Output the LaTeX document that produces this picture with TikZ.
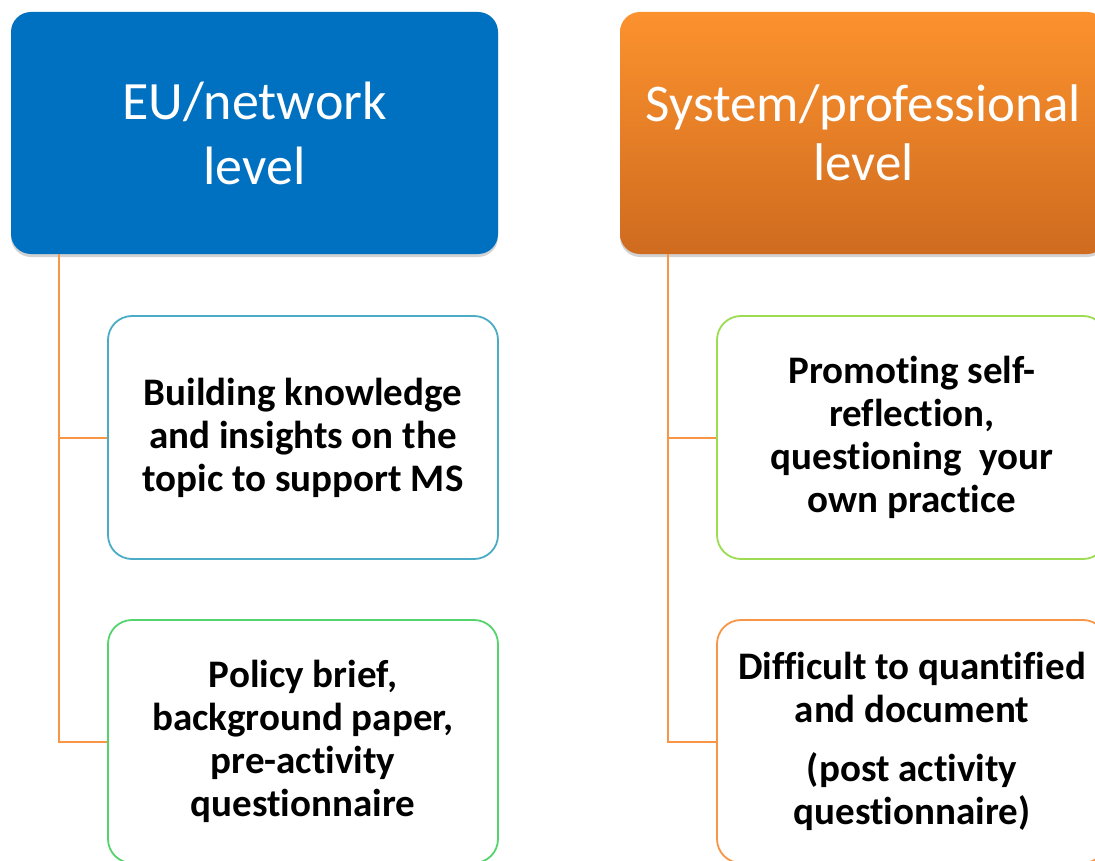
\documentclass[tikz,border=0pt]{standalone}
\usepackage{fontspec}
\setmainfont{Carlito}[Ligatures={NoCommon}]
\usetikzlibrary{shadows}
\definecolor{hdrblue}{HTML}{0070C0}
\definecolor{hdrtop}{HTML}{FC922E}
\definecolor{hdrbot}{HTML}{CF6B1F}
\definecolor{linkorange}{HTML}{F79646}
\definecolor{bordA}{HTML}{4BACC6}
\definecolor{bordB}{HTML}{55D36C}
\definecolor{bordC}{HTML}{9CDC52}
\definecolor{bordD}{HTML}{F79646}
\begin{document}
\begin{tikzpicture}[x=1pt,y=-1pt,
  header/.style={rounded corners=20pt, minimum width=487pt, minimum height=242pt,
    text=white, align=center, inner sep=0pt,
    drop shadow={shadow xshift=0pt,shadow yshift=-3pt,opacity=.25,fill=black!70}},
  child/.style={draw, line width=1.8pt, fill=white, rounded corners=24pt,
    minimum width=390pt, minimum height=243pt, align=center, inner sep=0pt,
    font=\bfseries\fontsize{39}{43}\selectfont},
  link/.style={draw=linkorange, line width=2pt}]
\useasboundingbox (0,0) rectangle (1095,861);
\clip (0,0) rectangle (1095,861);
\fill[white] (0,0) rectangle (1095,861);

\node[header, fill=hdrblue, font=\fontsize{54}{65}\selectfont] (eu) at (254.5,133) {EU/network\\level};
\node[header, top color=hdrtop, bottom color=hdrbot, font=\fontsize{53}{59}\selectfont] (sys) at (863.5,133) {System/professional\\level};

\node[child, draw=bordA] (b1) at (303,437.5) {\raisebox{-6pt}{\parbox{380pt}{\centering Building knowledge\\and insights on the\\topic to support MS}}};
\node[child, draw=bordB] (b2) at (303,741.5) {\raisebox{-3pt}{\parbox{380pt}{\centering Policy brief,\\background paper,\\pre-activity\\questionnaire}}};
\node[child, draw=bordC] (b3) at (912,437.5) {\raisebox{-3pt}{\parbox{380pt}{\centering Promoting self-\\reflection,\\questioning\ \ your\\own practice}}};
\node[child, draw=bordD] (b4) at (912,741.5) {\raisebox{-3pt}{\parbox{380pt}{\centering Difficult to quantified\\and document\\[16pt](post activity\\questionnaire)}}};

\draw[link] ([xshift=48pt]eu.south west) |- (b1.west);
\draw[link] ([xshift=48pt]eu.south west) |- (b2.west);
\draw[link] ([xshift=48pt]sys.south west) |- (b3.west);
\draw[link] ([xshift=48pt]sys.south west) |- (b4.west);
\end{tikzpicture}
\end{document}
